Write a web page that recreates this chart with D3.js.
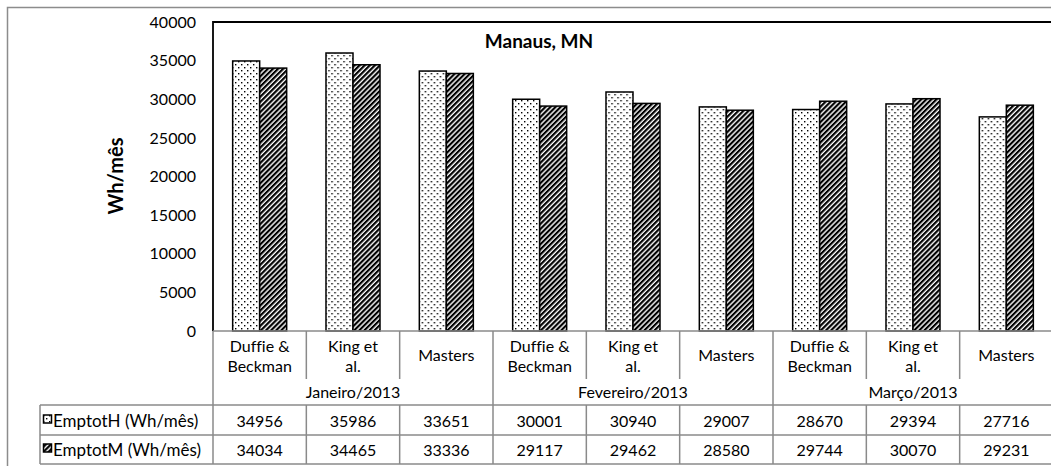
<!DOCTYPE html>
<html>
<head>
<meta charset="utf-8">
<script src="https://cdn.jsdelivr.net/npm/d3@7"></script>
<style>
  html, body { margin: 0; padding: 0; background: #fff; }
  svg { display: block; font-family: Lato, "Open Sans", sans-serif; font-variant-ligatures: none; }
</style>
</head>
<body>
<svg id="chart" width="1051" height="466"></svg>
<script>
// Monthly energy (Wh/mês) per estimation model, Manaus
const months = ["Janeiro/2013", "Fevereiro/2013", "Março/2013"];
const models = [["Duffie &", "Beckman"], ["King et", "al."], ["Masters"]];
const seriesNames = ["EmptotH (Wh/mês)", "EmptotM (Wh/mês)"];
const emptotH = [34956, 35986, 33651, 30001, 30940, 29007, 28670, 29394, 27716];
const emptotM = [34034, 34465, 33336, 29117, 29462, 28580, 29744, 30070, 29231];
const yTicks = [0, 5000, 10000, 15000, 20000, 25000, 30000, 35000, 40000];

const svg = d3.select("#chart");
const W = 1051, H = 466;
const plot = { left: 213, right: 1053, top: 22, bottom: 331 };
const rows = { label: 331, month: 379, r1: 405, r2: 435, end: 464 };
const tableLeft = 40;
const FS = 16;

// fill patterns: dotted for H, wide upward diagonal for M
const defs = svg.append("defs");
const dots = defs.append("pattern").attr("id", "dots")
  .attr("patternUnits", "userSpaceOnUse").attr("width", 6).attr("height", 6);
dots.append("rect").attr("width", 6).attr("height", 6).attr("fill", "#fff");
[[1, 1], [4, 4]].forEach(([x, y]) =>
  dots.append("rect").attr("x", x).attr("y", y).attr("width", 1.4).attr("height", 1.4).attr("fill", "#000"));
const hatch = defs.append("pattern").attr("id", "hatch")
  .attr("patternUnits", "userSpaceOnUse").attr("width", 3.6).attr("height", 10)
  .attr("patternTransform", "rotate(45)");
hatch.append("rect").attr("width", 3.6).attr("height", 10).attr("fill", "#fff");
hatch.append("rect").attr("width", 2.2).attr("height", 10).attr("fill", "#000");
const fills = ["url(#dots)", "url(#hatch)"];

// outer chart frame
svg.append("rect").attr("x", 7.5).attr("y", 7.5).attr("width", W + 10).attr("height", H - 4)
  .attr("fill", "none").attr("stroke", "#8c8c8c").attr("stroke-width", 1.5);

// scales
const catIdx = d3.range(emptotH.length);
const x0 = d3.scaleBand().domain(catIdx).range([plot.left, plot.right]).padding(0);
const x1 = d3.scaleBand().domain([0, 1]).range([0, x0.bandwidth()])
  .paddingInner(0).paddingOuter(0.728);
const y = d3.scaleLinear().domain([0, 40000]).range([plot.bottom, plot.top]);

// y axis labels
const yAxis = d3.axisLeft(y).tickValues(yTicks).tickSize(0).tickPadding(17).tickFormat(d3.format("d"));
const gy = svg.append("g").attr("transform", `translate(${plot.left},0)`).call(yAxis);
gy.select(".domain").remove();
gy.selectAll("text").attr("font-size", FS).attr("fill", "#000").attr("font-family", "Lato, sans-serif");

// bars
const data = catIdx.map(i => [emptotH[i], emptotM[i]]);
const groups = svg.append("g").selectAll("g").data(data).join("g")
  .attr("transform", (d, i) => `translate(${x0(i)},0)`);
groups.selectAll("rect").data(d => d).join("rect")
  .attr("x", (d, j) => x1(j))
  .attr("y", d => y(d))
  .attr("width", x1.bandwidth())
  .attr("height", d => y(0) - y(d))
  .attr("fill", (d, j) => fills[j])
  .attr("stroke", "#000").attr("stroke-width", 1.5);

// plot area border (top / left)
svg.append("path").attr("d", `M${plot.left},${plot.bottom}V${plot.top}H${W + 5}`)
  .attr("fill", "none").attr("stroke", "#000").attr("stroke-width", 1.8);

// data table grid
const grid = svg.append("g").attr("stroke", "#8a8a8a").attr("stroke-width", 1.5).attr("fill", "none");
grid.append("line").attr("x1", plot.left).attr("x2", W + 5).attr("y1", rows.label).attr("y2", rows.label);
[rows.r1, rows.r2, rows.end].forEach(yy =>
  grid.append("line").attr("x1", tableLeft).attr("x2", W + 5).attr("y1", yy).attr("y2", yy));
grid.append("line").attr("x1", tableLeft).attr("x2", tableLeft).attr("y1", rows.r1).attr("y2", rows.end);
// category separators (label row) and month separators (full height)
catIdx.concat([catIdx.length]).forEach(i => {
  const xx = i < catIdx.length ? x0(i) : plot.right;
  const full = i % 3 === 0;
  grid.append("line").attr("x1", xx).attr("x2", xx)
    .attr("y1", rows.label)
    .attr("y2", full ? rows.r1 : rows.month);
  grid.append("line").attr("x1", xx).attr("x2", xx).attr("y1", rows.r1).attr("y2", rows.end);
});

const txt = svg.append("g").attr("font-size", FS).attr("fill", "#000").attr("text-anchor", "middle");
// model labels
catIdx.forEach(i => {
  const lines = models[i % 3];
  const cx = x0(i) + x0.bandwidth() / 2;
  const t = txt.append("text").attr("x", cx);
  if (lines.length === 2) {
    t.append("tspan").attr("x", cx).attr("y", 352).text(lines[0]);
    t.append("tspan").attr("x", cx).attr("y", 372).text(lines[1]);
  } else {
    t.attr("y", 361).text(lines[0]);
  }
});
// month labels
months.forEach((m, k) => {
  const cx = (x0(k * 3) + (k * 3 + 3 < catIdx.length ? x0(k * 3 + 3) : plot.right)) / 2;
  txt.append("text").attr("x", cx).attr("y", 398).text(m);
});
// value rows
[emptotH, emptotM].forEach((vals, s) => {
  const yy = s === 0 ? 427 : 456;
  vals.forEach((v, i) => {
    txt.append("text").attr("x", x0(i) + x0.bandwidth() / 2).attr("y", yy).text(v);
  });
  // legend key + series name
  svg.append("rect").attr("x", 43.5).attr("y", yy - 12).attr("width", 8).attr("height", 8)
    .attr("fill", fills[s]).attr("stroke", "#000").attr("stroke-width", 1.5);
  svg.append("text").attr("x", 53).attr("y", yy).attr("font-size", 17).text(seriesNames[s]);
});

// title and y axis title
svg.append("text").attr("x", 539).attr("y", 48).attr("text-anchor", "middle")
  .attr("font-size", 19).attr("font-weight", "bold").text("Manaus, MN");
svg.append("text").attr("transform", `translate(123,176) rotate(-90)`).attr("text-anchor", "middle")
  .attr("font-size", 20).attr("font-weight", "bold").text("Wh/mês");
</script>
</body>
</html>
